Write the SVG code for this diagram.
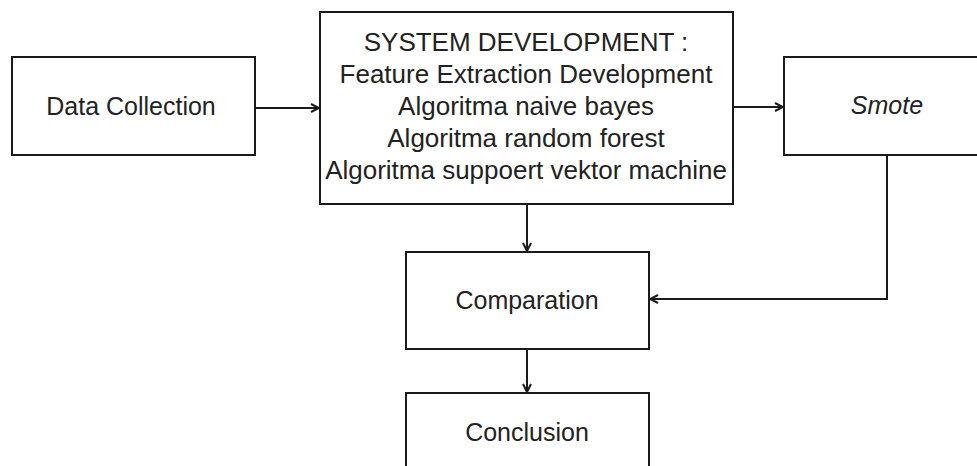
<svg xmlns="http://www.w3.org/2000/svg" width="977" height="466" viewBox="0 0 977 466">
<style>
.box{fill:#fff;stroke:#1a1a1a;stroke-width:2}
.t{font-family:"Liberation Sans",Arial,sans-serif;font-size:25px;fill:#222;text-anchor:middle}
.s{font-size:26px}
.c{fill:none;stroke:#1a1a1a;stroke-width:2}
</style>
<defs>
<marker id="ah" viewBox="0 0 10 10" refX="9" refY="5" markerWidth="10" markerHeight="10" markerUnits="userSpaceOnUse" orient="auto">
<path d="M1,1 L9,5 L1,9" fill="none" stroke="#1a1a1a" stroke-width="2"/>
</marker>
</defs>
<rect width="977" height="466" fill="#fff"/>
<g id="data-collection">
<rect class="box" x="12" y="57" width="243" height="98"/>
<text class="t" x="131" y="115">Data Collection</text>
</g>
<g id="system-development">
<rect class="box" x="320" y="12" width="413" height="192"/>
<text class="t s" x="526" y="51">SYSTEM DEVELOPMENT :</text>
<text class="t s" x="526" y="83">Feature Extraction Development</text>
<text class="t s" x="526" y="115">Algoritma naive bayes</text>
<text class="t s" x="526" y="147">Algoritma random forest</text>
<text class="t s" x="526" y="179">Algoritma suppoert vektor machine</text>
</g>
<g id="smote">
<rect class="box" x="784" y="57" width="200" height="98"/>
<text class="t" x="887" y="114" font-style="italic">Smote</text>
</g>
<g id="comparation">
<rect class="box" x="406" y="252" width="243" height="97"/>
<text class="t" x="527" y="309">Comparation</text>
</g>
<g id="conclusion">
<rect class="box" x="406" y="393" width="243" height="90"/>
<text class="t" x="527" y="441">Conclusion</text>
</g>
<g id="connectors">
<line class="c" x1="255" y1="108" x2="319" y2="108" marker-end="url(#ah)"/>
<line class="c" x1="733" y1="107" x2="783" y2="107" marker-end="url(#ah)"/>
<line class="c" x1="527" y1="204" x2="527" y2="251" marker-end="url(#ah)"/>
<polyline class="c" points="887,155 887,299 650,299" marker-end="url(#ah)"/>
<line class="c" x1="527" y1="349" x2="527" y2="392" marker-end="url(#ah)"/>
</g>
</svg>
